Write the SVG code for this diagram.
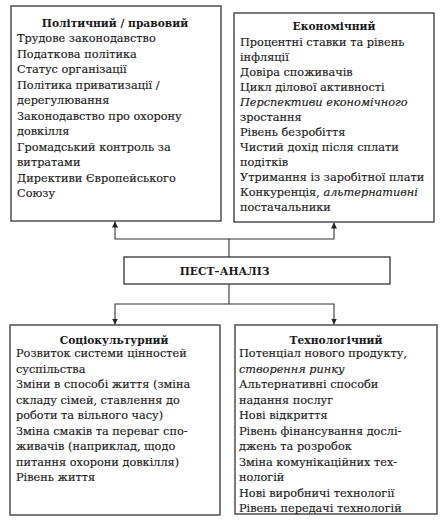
<svg xmlns="http://www.w3.org/2000/svg" width="446" height="526" viewBox="0 0 446 526">
<style>
.box{fill:#fff;stroke:#333;stroke-width:1.3}
.t{font-family:"DejaVu Serif","Liberation Serif",serif;font-size:11.3px;fill:#1a1a1a;stroke:#1a1a1a;stroke-width:0.15}
.h{font-family:"DejaVu Serif","Liberation Serif",serif;font-size:10.7px;font-weight:bold;fill:#1a1a1a;text-anchor:middle}
.i{font-style:italic}
.c{fill:none;stroke:#333;stroke-width:1.1}
</style>
<defs>
<marker id="ah" viewBox="0 0 10 10" refX="10" refY="5" markerWidth="6" markerHeight="6" orient="auto" markerUnits="userSpaceOnUse">
<path d="M0,0 L10,5 L0,10 Z" fill="#222"/>
</marker>
</defs>
<rect width="446" height="526" fill="#fff"/>
<g id="connectors">
<path class="c" d="M229,257 V239 H115 V221.5" marker-end="url(#ah)"/>
<path class="c" d="M229,239 H334 V222.5" marker-end="url(#ah)"/>
<path class="c" d="M229,284 V304 H115 V324.5" marker-end="url(#ah)"/>
<path class="c" d="M229,304 H334 V324.5" marker-end="url(#ah)"/>
</g>
<g id="political">
<rect class="box" x="11" y="6" width="210" height="215"/>
<text class="h" x="115" y="27">Політичний / правовий</text>
<text class="t" x="17" y="42">Трудове законодавство</text>
<text class="t" x="17" y="57.5">Податкова політика</text>
<text class="t" x="17" y="73">Статус організації</text>
<text class="t" x="17" y="88.5">Політика приватизації /</text>
<text class="t" x="17" y="104">дерегулювання</text>
<text class="t" x="17" y="119.5">Законодавство про охорону</text>
<text class="t" x="17" y="135">довкілля</text>
<text class="t" x="17" y="150.5">Громадський контроль за</text>
<text class="t" x="17" y="166">витратами</text>
<text class="t" x="17" y="181.5">Директиви Європейського</text>
<text class="t" x="17" y="197">Союзу</text>
</g>
<g id="economic">
<rect class="box" x="234" y="13" width="200" height="209"/>
<text class="h" x="334" y="30">Економічний</text>
<text class="t" x="240" y="46">Процентні ставки та рівень</text>
<text class="t" x="240" y="61">інфляції</text>
<text class="t" x="240" y="76">Довіра споживачів</text>
<text class="t" x="240" y="91">Цикл ділової активності</text>
<text class="t i" x="240" y="106">Перспективи економічного</text>
<text class="t" x="240" y="121">зростання</text>
<text class="t" x="240" y="136">Рівень безробіття</text>
<text class="t" x="240" y="151">Чистий дохід після сплати</text>
<text class="t" x="240" y="166">подітків</text>
<text class="t" x="240" y="181">Утримання із заробітної плати</text>
<text class="t" x="240" y="196">Конкуренція, <tspan class="i">альтернативні</tspan></text>
<text class="t" x="240" y="211">постачальники</text>
</g>
<g id="pest">
<rect class="box" x="124" y="257" width="266" height="27"/>
<text class="h" x="224.5" y="275">ПЕСТ–АНАЛІЗ</text>
</g>
<g id="sociocultural">
<rect class="box" x="10" y="325" width="210" height="190"/>
<text class="h" x="114" y="344">Соціокультурний</text>
<text class="t" x="16" y="357">Розвиток системи цінностей</text>
<text class="t" x="16" y="372.5">суспільства</text>
<text class="t" x="16" y="388">Зміни в способі життя (зміна</text>
<text class="t" x="16" y="403.5">складу сімей, ставлення до</text>
<text class="t" x="16" y="419">роботи та вільного часу)</text>
<text class="t" x="16" y="434.5">Зміна смаків та переваг спо-</text>
<text class="t" x="16" y="450">живачів (наприклад, щодо</text>
<text class="t" x="16" y="465.5">питання охорони довкілля)</text>
<text class="t" x="16" y="481">Рівень життя</text>
</g>
<g id="technological">
<rect class="box" x="235" y="325" width="202" height="189"/>
<text class="h" x="336" y="344">Технологічний</text>
<text class="t" x="239" y="357">Потенціал нового продукту,</text>
<text class="t i" x="239" y="372.5">створення ринку</text>
<text class="t" x="239" y="388">Альтернативні способи</text>
<text class="t" x="239" y="403.5">надання послуг</text>
<text class="t" x="239" y="419">Нові відкриття</text>
<text class="t" x="239" y="434.5">Рівень фінансування дослі-</text>
<text class="t" x="239" y="450">джень та розробок</text>
<text class="t" x="239" y="465.5">Зміна комунікаційних тех-</text>
<text class="t" x="239" y="481">нологій</text>
<text class="t" x="239" y="496.5">Нові виробничі технології</text>
<text class="t" x="239" y="512">Рівень передачі технологій</text>
</g>
</svg>
